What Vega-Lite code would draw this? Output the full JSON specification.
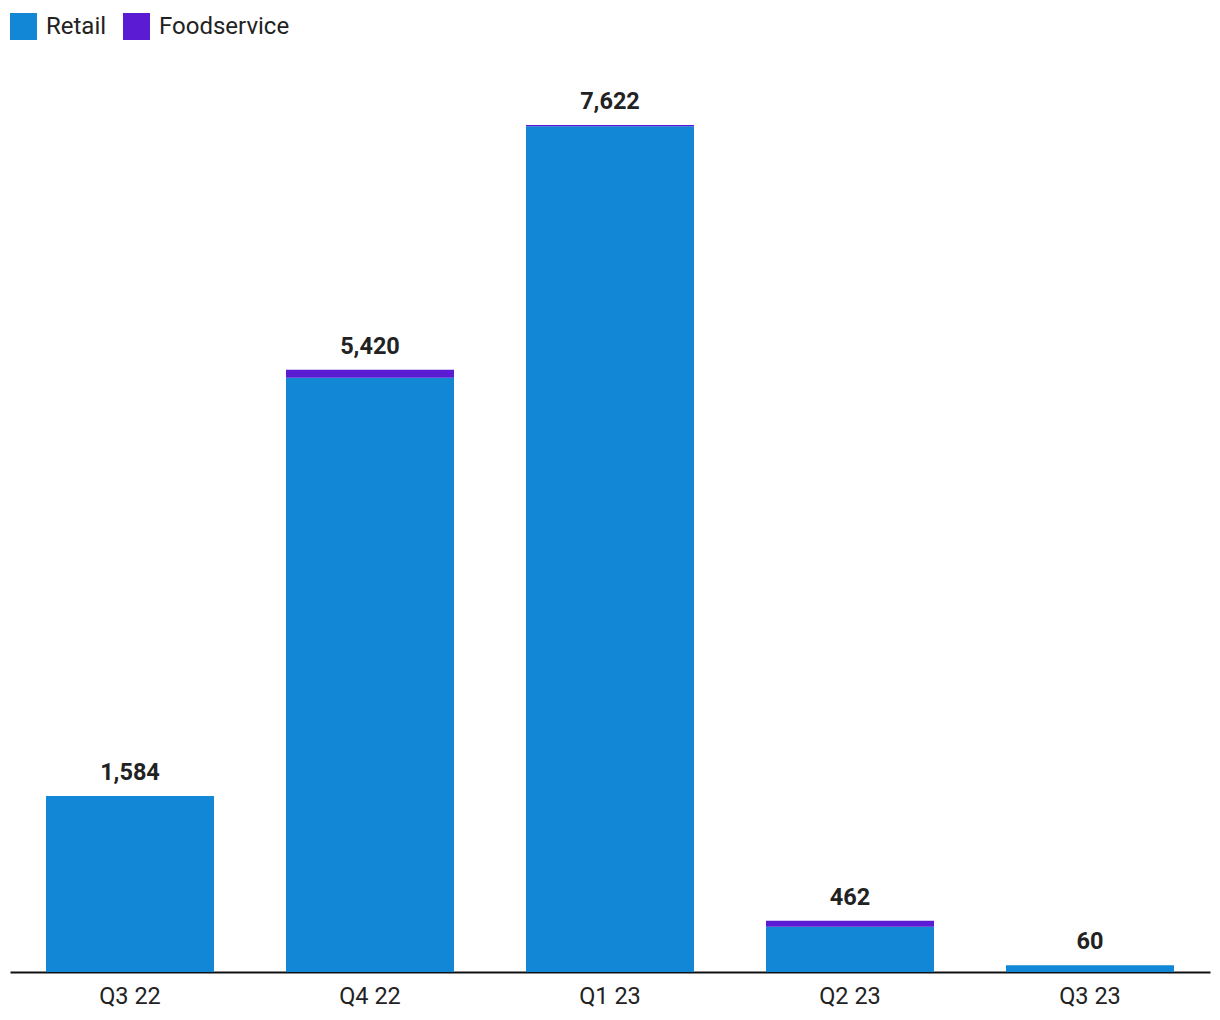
{
  "$schema": "https://vega.github.io/schema/vega-lite/v6.json",
  "autosize": "none",
  "width": 1200,
  "height": 889,
  "padding": {"left": 10, "top": 83, "right": 10, "bottom": 48},
  "background": "white",
  "config": {
    "view": {"stroke": null},
    "font": "Roboto"
  },
  "data": {
    "values": [
      {"quarter": "Q3 22", "segment": "Retail", "value": 1584, "ord": 1},
      {"quarter": "Q3 22", "segment": "Foodservice", "value": 0, "ord": 2},
      {"quarter": "Q4 22", "segment": "Retail", "value": 5348, "ord": 1},
      {"quarter": "Q4 22", "segment": "Foodservice", "value": 72, "ord": 2},
      {"quarter": "Q1 23", "segment": "Retail", "value": 7610, "ord": 1},
      {"quarter": "Q1 23", "segment": "Foodservice", "value": 12, "ord": 2},
      {"quarter": "Q2 23", "segment": "Retail", "value": 408, "ord": 1},
      {"quarter": "Q2 23", "segment": "Foodservice", "value": 54, "ord": 2},
      {"quarter": "Q3 23", "segment": "Retail", "value": 60, "ord": 1},
      {"quarter": "Q3 23", "segment": "Foodservice", "value": 0, "ord": 2}
    ]
  },
  "encoding": {
    "x": {
      "field": "quarter",
      "type": "nominal",
      "sort": ["Q3 22", "Q4 22", "Q1 23", "Q2 23", "Q3 23"],
      "scale": {"paddingInner": 0.3, "paddingOuter": 0.15},
      "axis": {
        "title": null,
        "labelAngle": 0,
        "labelFontSize": 23.5,
        "labelColor": "#222222",
        "labelPadding": 12,
        "ticks": false,
        "domainColor": "#111111",
        "domainWidth": 2,
        "grid": false
      }
    }
  },
  "layer": [
    {
      "mark": {"type": "bar"},
      "encoding": {
        "y": {
          "field": "value",
          "type": "quantitative",
          "stack": "zero",
          "scale": {"domain": [0, 8000], "nice": false},
          "axis": null
        },
        "color": {
          "field": "segment",
          "type": "nominal",
          "scale": {"domain": ["Retail", "Foodservice"], "range": ["#1287d6", "#5b1bd2"]},
          "legend": {
            "title": null,
            "orient": "none",
            "legendX": 0,
            "legendY": -70,
            "direction": "horizontal",
            "symbolType": "square",
            "symbolSize": 729,
            "symbolStrokeWidth": 0,
            "symbolOpacity": 1,
            "labelFontSize": 24,
            "labelColor": "#222222",
            "labelOffset": 9,
            "columnPadding": 16
          }
        },
        "order": {"field": "ord", "type": "quantitative"}
      }
    },
    {
      "transform": [
        {"aggregate": [{"op": "sum", "field": "value", "as": "total"}], "groupby": ["quarter"]}
      ],
      "mark": {"type": "text", "baseline": "bottom", "dy": -11, "fontSize": 23.5, "fontWeight": "bold", "color": "#222222"},
      "encoding": {
        "y": {"field": "total", "type": "quantitative"},
        "text": {"field": "total", "type": "quantitative", "format": ","}
      }
    }
  ]
}
